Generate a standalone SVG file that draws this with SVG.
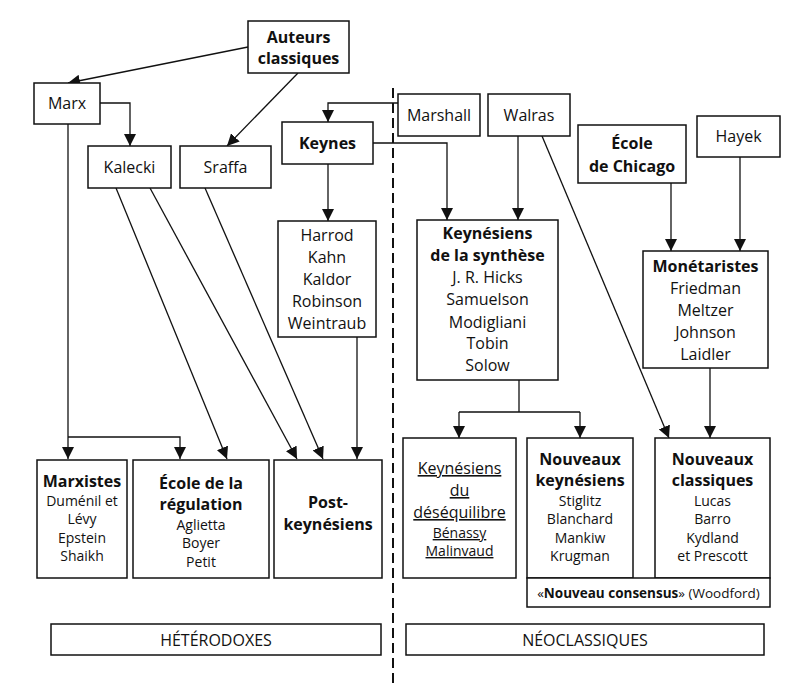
<svg xmlns="http://www.w3.org/2000/svg" width="800" height="688" viewBox="0 0 800 688">
<defs>
<marker id="ah" markerUnits="userSpaceOnUse" markerWidth="13" markerHeight="12" refX="12" refY="6" orient="auto">
<path d="M0,0 L12,6 L0,12 z" fill="#111"/>
</marker>
<style>
rect{fill:#fff;stroke:#111;stroke-width:1.5}
text{font-family:"Open Sans","Noto Sans","DejaVu Sans",sans-serif;font-size:14px;fill:#111;text-anchor:middle}
.b{font-weight:bold}
.t{font-size:16px}
.l{font-size:16px}
.u{text-decoration:underline}
#connectors path,#connectors line{stroke:#111;stroke-width:1.3;fill:none}
.arr{marker-end:url(#ah)}
</style>
</defs>
<rect x="0" y="0" width="800" height="688" style="stroke:none;fill:#fff"/>
<line x1="393" y1="88" x2="393" y2="688" stroke="#111" stroke-width="2" stroke-dasharray="10 5"/>
<g id="connectors">
<path class="arr" d="M248,47 L68,83"/>
<path class="arr" d="M298,73 L227,146"/>
<path class="arr" d="M100,103 L130,103 L130,146"/>
<path d="M68,124 L68,437"/>
<path class="arr" d="M68,437 L68,459"/>
<path class="arr" d="M68,437 L180,437 L180,459"/>
<path class="arr" d="M116,188 L227,459"/>
<path class="arr" d="M150,188 L297,459"/>
<path class="arr" d="M205,188 L323,459"/>
<path class="arr" d="M398,103 L328,103 L328,122"/>
<path class="arr" d="M328,164 L328,221"/>
<path class="arr" d="M357,337 L357,459"/>
<path class="arr" d="M373,143 L447,143 L447,220"/>
<path class="arr" d="M518,136 L518,220"/>
<path class="arr" d="M542,136 L669,438"/>
<path d="M519,380 L519,412 M459,412 L580,412"/>
<path class="arr" d="M459,412 L459,438"/>
<path class="arr" d="M580,412 L580,438"/>
<path class="arr" d="M671,183 L671,251"/>
<path class="arr" d="M740,157 L740,251"/>
<path class="arr" d="M710,368 L710,438"/>
</g>
<g id="auteurs"><rect x="248" y="21" width="101" height="52"/><text class="b l" x="298.5" y="43">Auteurs</text><text class="b l" x="298.5" y="64">classiques</text></g>
<g id="marx"><rect x="34" y="83" width="66" height="41"/><text class="l" x="67" y="109">Marx</text></g>
<g id="kalecki"><rect x="88" y="146" width="83" height="42"/><text class="l" x="129.5" y="173">Kalecki</text></g>
<g id="sraffa"><rect x="180" y="146" width="91" height="42"/><text class="l" x="225.5" y="173">Sraffa</text></g>
<g id="keynes"><rect x="282" y="122" width="91" height="42"/><text class="b l" x="327.5" y="149">Keynes</text></g>
<g id="marshall"><rect x="398" y="94" width="82" height="42"/><text class="l" x="439" y="121">Marshall</text></g>
<g id="walras"><rect x="488" y="94" width="82" height="42"/><text class="l" x="529" y="121">Walras</text></g>
<g id="chicago"><rect x="578" y="125" width="108" height="58"/><text class="b l" x="632" y="149">École</text><text class="b l" x="632" y="172">de Chicago</text></g>
<g id="hayek"><rect x="697" y="116" width="83" height="41"/><text class="l" x="738.5" y="142">Hayek</text></g>
<g id="harrod"><rect x="278" y="221" width="98" height="116"/>
<text class="l" x="327" y="241">Harrod</text><text class="l" x="327" y="263">Kahn</text><text class="l" x="327" y="285">Kaldor</text><text class="l" x="327" y="307">Robinson</text><text class="l" x="327" y="329">Weintraub</text></g>
<g id="synthese"><rect x="417" y="220" width="141" height="160"/>
<text class="b l" x="487.5" y="239">Keynésiens</text><text class="b l" x="487.5" y="261">de la synthèse</text><text class="l" x="487.5" y="283">J. R. Hicks</text><text class="l" x="487.5" y="305">Samuelson</text><text class="l" x="487.5" y="328">Modigliani</text><text class="l" x="487.5" y="349">Tobin</text><text class="l" x="487.5" y="371">Solow</text></g>
<g id="monetaristes"><rect x="643" y="251" width="125" height="117"/>
<text class="b l" x="705.5" y="272">Monétaristes</text><text class="l" x="705.5" y="294">Friedman</text><text class="l" x="705.5" y="316">Meltzer</text><text class="l" x="705.5" y="338">Johnson</text><text class="l" x="705.5" y="360">Laidler</text></g>
<g id="marxistes"><rect x="37" y="460" width="90" height="118"/>
<text class="b t" x="82" y="487">Marxistes</text><text x="82" y="506">Duménil et</text><text x="82" y="524">Lévy</text><text x="82" y="543">Epstein</text><text x="82" y="561">Shaikh</text></g>
<g id="regulation"><rect x="133" y="460" width="136" height="118"/>
<text class="b t" x="201" y="489">École de la</text><text class="b t" x="201" y="510">régulation</text><text x="201" y="530">Aglietta</text><text x="201" y="548">Boyer</text><text x="201" y="567">Petit</text></g>
<g id="postkeynesiens"><rect x="274" y="460" width="108" height="118"/>
<text class="b t" x="328" y="508">Post-</text><text class="b t" x="328" y="530">keynésiens</text></g>
<g id="desequilibre"><rect x="403" y="438" width="113" height="140"/>
<text class="t u" x="459.5" y="474">Keynésiens</text><text class="t u" x="459.5" y="496">du</text><text class="t u" x="459.5" y="518">déséquilibre</text><text class="u" x="459.5" y="538">Bénassy</text><text class="u" x="459.5" y="556">Malinvaud</text></g>
<g id="nouveauxkeynesiens"><rect x="527" y="438" width="106" height="140"/>
<text class="b t" x="580" y="465">Nouveaux</text><text class="b t" x="580" y="486">keynésiens</text><text x="580" y="506">Stiglitz</text><text x="580" y="524">Blanchard</text><text x="580" y="543">Mankiw</text><text x="580" y="561">Krugman</text></g>
<g id="nouveauxclassiques"><rect x="655" y="438" width="115" height="140"/>
<text class="b t" x="712.5" y="465">Nouveaux</text><text class="b t" x="712.5" y="486">classiques</text><text x="712.5" y="506">Lucas</text><text x="712.5" y="524">Barro</text><text x="712.5" y="543">Kydland</text><text x="712.5" y="561">et Prescott</text></g>
<g id="consensus"><rect x="527" y="578" width="243" height="29"/>
<text x="648.5" y="598" style="font-size:13.5px">«<tspan class="b">Nouveau consensus</tspan>» (Woodford)</text></g>
<g id="heterodoxes"><rect x="51" y="624" width="330" height="31"/><text class="l" x="216" y="646">HÉTÉRODOXES</text></g>
<g id="neoclassiques"><rect x="406" y="624" width="358" height="31"/><text class="l" x="585" y="646">NÉOCLASSIQUES</text></g>
</svg>
